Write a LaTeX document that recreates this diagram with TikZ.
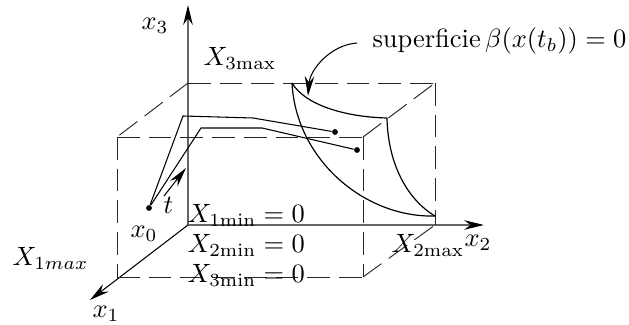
\documentclass[tikz,border=0pt]{standalone}
\usepackage{amsmath}
\usepackage{amssymb}
\usetikzlibrary{arrows.meta,calc}
\tikzset{
  eje/.style={
    -{Stealth[length=7.5pt,width=3.6pt,black]},
    draw=black!60,
    line width=.5pt
  },
  caja/.style={
    line width=.35pt,
    draw=black!85,
    dash pattern=on 8.6pt off 3.4pt
  },
  curva/.style={
    line width=.45pt
  },
  tray/.style={
    line width=.4pt
  },
  flecha/.style={
    -{Stealth[length=7.5pt,width=3.6pt]},
    line width=.4pt
  },
  etq/.style={
    anchor=base west,
    inner sep=0pt
  },
  punto/.style={
    circle,
    fill=black,
    inner sep=0pt,
    minimum size=2.2pt
  }
}
\begin{document}
\begin{tikzpicture}[x=.378pt,y=-.378pt]
\useasboundingbox (0,0) rectangle (629,325);
\coordinate (o) at (188,225);
\coordinate (x3end) at (188,5);
\coordinate (x2end) at (484,225);
\coordinate (x1end) at (90,300);
\coordinate (bi) at (117,277);
\coordinate (bd) at (363,277);
\coordinate (br) at (435,225);
\coordinate (ti) at (117,137);
\coordinate (td) at (363,137);
\coordinate (tf) at (188,83);
\coordinate (tr) at (435,83);
\coordinate (sa) at (292,83);
\coordinate (sb) at (387,118);
\coordinate (sc) at (435,216);
\draw[eje] (o) -- (x3end);
\draw[eje] (o) -- (x2end);
\draw[flecha] (o) -- (x1end);
\draw[caja] (tf) -- (ti);
\draw[caja] (ti) -- (td);
\draw[caja] (ti) -- (bi);
\draw[caja] (bi) -- (bd);
\draw[caja] (bd) -- (br);
\draw[caja] (td) -- (bd);
\draw[caja] (td) -- (tr);
\draw[caja] (tf) -- (tr);
\draw[caja] (tr) -- (br);
\draw[curva] (sa) .. controls (305,105) and (345,117) .. (sb);
\draw[curva] (sa) .. controls (296,160) and (365,218) .. (sc);
\draw[curva] (sb) .. controls (388,165) and (408,200) .. (sc);
\node[punto] (x0) at (149,208) {};
\node[punto] (fa) at (335,132) {};
\node[punto] (fb) at (357,150) {};
\draw[tray] (x0) -- (183,116) -- (253,118) -- (fa);
\draw[tray] (x0) -- (201,128) -- (262,128) -- (fb);
\coordinate (ta) at (164,196);
\coordinate (tb) at (186,168);
\draw[flecha] (ta) -- (tb);
\node[etq] (lx3) at (141,30) {$x_3$};
\node[etq] (lx2) at (464,247) {$x_2$};
\node[etq] (lx1) at (92,318) {$x_1$};
\node[etq] (lx0) at (130,238) {$x_0$};
\node[etq] (lt) at (163,214) {$t$};
\node[etq] (l3max) at (203,66) {$X_{3\mathrm{max}}$};
\node[etq] (l2max) at (391,253) {$X_{2\mathrm{max}}$};
\node[etq] (l1max) at (12,266) {$X_{1max}$};
\node[etq] (l1min) at (187,223) {$X_{1\mathrm{min}}=0$};
\node[etq] (l2min) at (187,253) {$X_{2\mathrm{min}}=0$};
\node[etq] (l3min) at (187,283) {$X_{3\mathrm{min}}=0$};
\node[etq] (lsup) at (372,48) {superficie\,$\beta(x(t_b))=0$};
\coordinate (sup) at (357,43);
\coordinate (supend) at (308,96);
\draw[flecha] (sup) .. controls (330,45) and (310,70) .. (supend);
\end{tikzpicture}
\end{document}
